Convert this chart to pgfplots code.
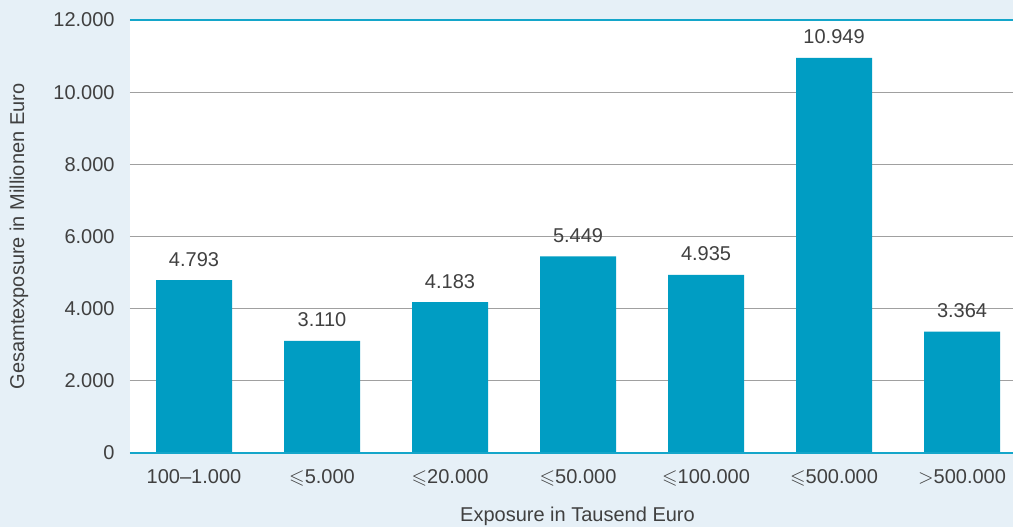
\documentclass[border=0pt]{standalone}
\usepackage{pgfplots}
\pgfplotsset{compat=1.18}
\usepackage{amssymb}
\usepackage{fontspec}
\setmainfont{Liberation Sans}
\definecolor{bgc}{HTML}{E6F0F7}
\definecolor{barc}{HTML}{009DC3}
\definecolor{linec}{HTML}{14A6CA}
\definecolor{gridc}{HTML}{A0A0A0}
\definecolor{txt}{HTML}{404040}
\begin{document}
\begin{tikzpicture}
\useasboundingbox (0,0) rectangle (506.5pt,263.5pt);
\fill[bgc] (0,0) rectangle (506.5pt,263.5pt);
\begin{axis}[
  at={(65pt,37pt)}, anchor=south west,
  scale only axis,
  width=441.5pt, height=216.5pt,
  xmin=-0.5, xmax=6.398,
  ymin=0, ymax=12000,
  ytick={0,2000,...,12000},
  xtick={0,1,2,3,4,5,6},
  xticklabels={100--1.000,$\leqslant$5.000,$\leqslant$20.000,$\leqslant$50.000,$\leqslant$100.000,$\leqslant$500.000,$>$500.000},
  scaled y ticks=false,
  /pgf/number format/fixed,
  /pgf/number format/precision=0,
  /pgf/number format/1000 sep={.},
  /pgf/number format/assume math mode=true,
  major tick length=0pt,
  axis line style={draw=none},
  axis background/.style={fill=white},
  ymajorgrids,
  grid style={gridc, line width=0.5pt},
  clip=false,
  tick label style={font=\fontsize{10}{12}\selectfont},
  label style={font=\fontsize{10}{12}\selectfont},
  yticklabel style={anchor=east, inner sep=0pt, xshift=-7.5pt, text=txt},
  xticklabel style={anchor=base, inner sep=0pt, yshift=-15pt, text=txt},
  xlabel={Exposure in Tausend Euro},
  ylabel={Gesamtexposure in Millionen Euro},
  xlabel style={at={(axis description cs:0.5,0)}, anchor=base, inner sep=0pt, yshift=-34pt, xshift=3pt, text=txt},
  ylabel style={at={(axis description cs:0,0.5)}, anchor=center, inner sep=0pt, yshift=55.5pt, text=txt},
  ybar, bar width=38pt,
  nodes near coords,
  every node near coord/.append style={anchor=base, inner sep=0pt, yshift=7pt, text=txt, font=\fontsize{10}{12}\selectfont},
]
\addplot[fill=barc, draw=none] coordinates {(0,4793) (1,3110) (2,4183) (3,5449) (4,4935) (5,10949) (6,3364)};
\draw[linec, line width=1.1pt] (rel axis cs:0,0) -- (rel axis cs:1,0);
\draw[linec, line width=1.1pt] (rel axis cs:0,1) -- (rel axis cs:1,1);
\end{axis}
\end{tikzpicture}
\end{document}
